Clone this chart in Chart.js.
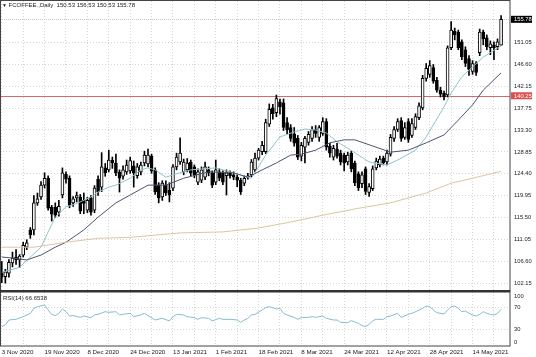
<!DOCTYPE html>
<html><head><meta charset="utf-8">
<script src="https://cdn.jsdelivr.net/npm/chart.js@4.4.1/dist/chart.umd.min.js"></script>
<style>
html,body{margin:0;padding:0;background:#fff;}
#wrap{position:relative;width:536px;height:357px;overflow:hidden;}
canvas{position:absolute;left:0;top:0;}
.lbl{position:absolute;font-family:"Liberation Sans",Arial,sans-serif;font-size:6px;color:#222;white-space:nowrap;line-height:1;}
</style></head>
<body>
<div id="wrap">
<canvas id="c" width="536" height="357"></canvas>
<div class="lbl" style="left:2px;top:2px;"><span style="font-size:5px">&#9660;</span> FCOFFEE.,Daily&nbsp; 150.53 156.53 150.53 155.78</div>
<div class="lbl" style="left:3px;top:295px;">RSI(14) 66.6538</div>
</div>
<script>
// ---------- data ----------
const startDate = '2020-11-03';
const holidays = ['2020-11-26','2020-12-25','2021-01-01','2021-01-18','2021-02-15','2021-04-02'];
const barCount = 141;
const openP  = [104.5,103.5,104.2,106.3,107.5,106.9,107.9,109.5,113.0,113.0,118.5,119.7,122.1,123.5,117.6,117.6,116.6,120.1,124.3,123.5,118.5,119.5,119.7,119.0,117.0,119.5,117.0,123.3,121.7,125.6,125.2,127.2,126.6,124.7,123.9,124.8,125.0,126.0,124.0,124.8,126.6,126.4,128.0,125.2,122.1,119.7,122.1,121.1,121.5,125.8,126.8,124.8,125.2,126.8,125.8,122.7,123.1,123.7,125.2,124.6,122.7,124.8,124.6,124.0,124.6,124.2,123.7,123.1,122.5,123.7,124.2,125.2,127.6,128.9,128.9,134.5,137.8,136.8,139.0,138.8,134.8,133.8,132.5,131.6,128.0,129.8,130.8,131.6,133.4,131.8,132.6,135.0,130.0,127.8,129.4,128.6,128.2,126.8,128.6,126.6,124.4,122.4,125.4,120.6,121.4,125.6,126.2,127.6,126.8,128.4,131.6,133.4,135.2,131.8,135.0,132.2,133.8,135.8,137.8,143.8,144.6,146.0,143.4,141.4,140.8,140.4,150.0,153.4,153.2,151.2,149.6,147.8,145.2,146.8,149.0,153.2,152.0,150.0,150.6,150.2,150.53];
const highP  = [106.6,105.0,107.0,108.5,109.0,108.0,110.5,111.0,113.5,120.0,120.5,122.8,124.6,124.0,118.0,118.5,119.0,125.6,124.8,124.0,119.8,120.7,120.2,120.5,119.6,120.0,122.0,124.0,128.7,126.5,129.2,127.8,128.4,125.2,126.0,127.2,127.8,127.0,126.5,126.8,129.0,129.4,128.4,125.6,122.6,123.0,123.0,122.6,126.3,128.6,131.7,127.4,127.5,127.2,126.2,125.4,125.8,126.8,125.8,125.0,127.2,125.4,125.0,125.2,125.0,124.8,124.2,123.5,124.0,124.5,127.3,128.6,129.6,131.0,135.5,138.6,138.5,140.4,139.6,139.6,135.8,134.4,133.8,132.2,130.8,132.0,133.0,134.0,134.2,134.2,135.8,135.6,130.6,130.2,130.6,129.2,128.6,128.8,129.0,127.0,124.8,124.8,125.8,122.4,126.0,127.6,128.0,128.0,129.2,132.4,134.0,135.6,135.8,134.8,135.6,135.6,136.6,138.8,144.4,146.8,147.4,146.6,144.0,142.0,141.2,150.4,155.3,154.0,153.6,151.6,150.2,148.4,147.4,147.2,153.8,153.6,152.6,151.4,151.2,151.8,156.53];
const lowP   = [102.3,102.2,103.4,105.5,106.0,105.4,107.5,109.0,111.3,112.0,118.0,119.2,121.5,117.0,114.8,115.5,115.8,119.5,122.5,117.5,117.8,118.7,116.3,116.3,116.5,116.0,116.5,120.0,120.8,123.9,124.8,125.5,124.0,120.7,123.3,124.3,124.5,121.7,123.5,124.2,126.0,125.8,124.5,120.2,118.5,119.0,120.0,118.7,121.0,125.2,126.3,124.2,124.8,124.0,123.6,122.2,122.6,123.2,124.0,121.6,122.2,123.0,122.2,120.1,123.5,123.2,121.8,120.2,122.0,123.3,123.8,124.8,127.2,128.3,128.5,134.0,135.5,136.0,136.5,133.2,132.5,131.0,130.0,127.3,127.0,126.6,130.2,131.0,131.8,131.0,132.2,129.2,127.8,127.2,127.6,126.2,125.0,126.2,124.8,122.0,121.0,121.6,120.2,119.8,121.0,125.2,125.8,126.2,126.2,128.0,131.0,133.0,131.0,131.4,130.8,131.8,133.4,135.4,137.4,143.2,144.0,142.8,141.0,140.0,139.4,140.0,149.6,151.6,149.6,147.6,146.2,144.4,144.6,144.4,148.4,150.6,149.6,148.6,147.6,149.6,150.53];
const closeP = [103.4,104.5,106.4,107.3,106.9,107.7,109.9,110.4,112.0,118.5,119.3,122.1,123.5,117.4,116.2,116.0,117.8,124.6,123.3,118.0,119.3,120.0,116.8,118.4,119.0,116.6,121.5,120.7,125.8,124.6,127.2,126.6,124.6,123.5,125.2,126.2,127.1,124.6,125.8,126.2,128.2,128.2,125.0,120.7,119.5,122.5,120.5,120.1,125.8,127.8,128.6,126.8,126.6,124.6,124.2,124.8,125.2,125.8,124.6,122.1,125.2,123.5,122.7,124.6,124.0,123.7,123.1,120.7,123.5,124.0,126.8,127.6,129.2,130.2,134.8,137.5,136.6,139.7,138.0,133.8,133.3,131.6,130.6,127.8,130.2,131.6,132.4,133.4,132.6,133.8,135.0,129.8,128.6,129.6,128.0,126.8,126.6,128.2,125.4,122.6,121.6,124.2,120.8,121.8,125.4,127.0,127.4,126.6,128.6,131.8,133.4,135.0,131.6,133.8,131.4,134.6,136.0,138.2,143.8,145.8,146.4,143.2,141.4,140.6,140.0,150.0,153.6,152.6,150.0,148.2,146.8,145.6,146.8,145.0,153.2,151.8,150.2,150.8,150.0,151.2,155.78];
// moving averages: [bar index, value]
const maFast = [[0,104.4],[5,105.4],[8,107.5],[11,109.5],[13,112.6],[15,115.6],[18,117.7],[20,118.1],[22,118.7],[25,119.7],[27,120.7],[30,121.7],[32,122.1],[36,123.5],[39,125.2],[41,125.6],[43,125.2],[46,123.7],[48,124.2],[53,125.2],[60,125.6],[65,124.6],[70,123.5],[74,128.2],[78,131.9],[82,132.9],[85,133.5],[88,133.3],[91,132.7],[94,130.9],[97,129.6],[100,128.2],[103,126.8],[108,126.2],[111,127.2],[116,129.2],[119,131.9],[124,138.0],[126,140.8],[129,144.1],[132,146.1],[135,148.1],[140,150.4]];
const maMid = [[0,107.5],[3,107.3],[7,106.9],[11,107.9],[15,109.5],[18,110.5],[23,113.0],[27,115.6],[32,118.5],[36,120.1],[41,122.1],[46,122.1],[51,123.5],[58,124.8],[65,124.6],[69,123.7],[73,125.2],[77,126.6],[81,128.2],[84,128.4],[88,129.2],[92,130.7],[96,131.3],[99,131.3],[103,130.3],[109,128.8],[114,129.2],[119,130.7],[124,132.3],[128,135.3],[132,138.4],[135,141.4],[140,144.9]];
const maSlow = [[0,109.5],[9,109.5],[18,110.5],[27,111.3],[36,111.5],[50,112.4],[62,112.6],[72,113.4],[81,114.6],[90,116.0],[100,117.4],[109,118.5],[114,119.5],[119,120.5],[126,122.5],[132,123.5],[140,124.9]];
const rsi = [[0,35.2],[1,38.2],[2,47.3],[4,48.5],[6,53.3],[8,59.4],[9,68.5],[10,71.5],[12,74.5],[13,65.5],[14,57.6],[15,55.2],[16,59.4],[17,67.3],[18,62.4],[19,54.5],[20,55.2],[22,52.1],[23,54.5],[25,51.5],[26,56.4],[27,57.6],[29,62.4],[30,61.2],[32,62.4],[33,56.4],[34,57.6],[36,59.4],[37,53.3],[39,56.4],[40,59.4],[41,55.2],[43,47.3],[45,50.3],[47,45.5],[48,53.3],[49,57.6],[51,56.4],[52,53.3],[54,51.5],[55,48.5],[56,51.5],[58,50.3],[59,45.5],[61,50.3],[62,48.5],[64,48.5],[66,47.3],[67,43.0],[68,47.3],[69,50.3],[70,56.4],[71,57.6],[73,65.5],[74,69.7],[75,71.5],[77,67.3],[78,68.5],[79,59.4],[80,56.4],[82,52.1],[83,48.5],[84,51.5],[86,52.1],[87,53.3],[88,52.1],[90,54.5],[91,50.3],[93,47.3],[94,47.3],[95,43.0],[97,42.4],[98,46.1],[100,41.2],[101,37.0],[102,35.2],[103,39.4],[104,46.1],[105,48.5],[107,48.5],[108,53.3],[109,54.5],[111,59.4],[112,52.1],[114,57.6],[115,59.4],[116,62.4],[118,68.5],[119,72.7],[120,71.5],[121,65.5],[122,60.6],[124,58.2],[125,65.5],[126,71.5],[127,72.7],[128,68.5],[129,62.4],[130,63.6],[131,59.4],[132,56.4],[133,54.5],[134,57.6],[135,62.4],[136,59.4],[137,57.6],[138,56.4],[139,59.4],[140,66.65]];
const priceTicks = [102.15,106.60,111.05,115.50,119.95,124.40,128.85,133.30,137.75,142.15,146.60,151.05];
const rsiTicks = [0,30,70,100];
const levelLine = 140.25;
const lastPrice = 155.78;

// ---------- build ----------
const MON = ['Jan','Feb','Mar','Apr','May','Jun','Jul','Aug','Sep','Oct','Nov','Dec'];
const categories = [];
{
  let d = new Date(startDate + 'T00:00:00Z');
  while (categories.length < barCount) {
    const wd = d.getUTCDay();
    const iso = d.toISOString().slice(0,10);
    if (wd !== 0 && wd !== 6 && !holidays.includes(iso)) {
      categories.push(d.getUTCDate() + ' ' + MON[d.getUTCMonth()] + ' ' + d.getUTCFullYear());
    }
    d = new Date(d.getTime() + 86400000);
  }
}
const labels = categories.concat(['', '']);
const N = labels.length;
function sparse(pairs){ const a = new Array(N).fill(null); pairs.forEach(([i,v]) => { a[i] = v; }); return a; }

const wickData = openP.map((o,i) => [lowP[i], highP[i]]);
const bodyData = openP.map((o,i) => [o, closeP[i]]);
const bodyFill = openP.map((o,i) => closeP[i] >= o ? '#ffffff' : '#000000');

const FONT = {family: '"Liberation Sans", Arial, sans-serif', size: 5.8};
const XFONT = {family: '"Liberation Sans", Arial, sans-serif', size: 6.2};
const FONT_CSS = '5.8px "Liberation Sans", Arial, sans-serif';
const noPad = s => { s.paddingTop = 0; s.paddingBottom = 0; s.paddingLeft = 0; s.paddingRight = 0; };

const panelPlugin = {
  id: 'panels',
  beforeDatasetsDraw(chart) {
    const {ctx, chartArea} = chart;
    const y = chart.scales.y;
    ctx.save();
    const ly = Math.round(y.getPixelForValue(levelLine)) + 0.5;
    ctx.strokeStyle = '#d9686a'; ctx.lineWidth = 1;
    ctx.beginPath(); ctx.moveTo(chartArea.left, ly); ctx.lineTo(chartArea.right, ly); ctx.stroke();
    const py = Math.round(y.getPixelForValue(lastPrice)) + 0.5;
    ctx.strokeStyle = '#c8c8c8'; ctx.setLineDash([1,1]);
    ctx.beginPath(); ctx.moveTo(chartArea.left, py); ctx.lineTo(chartArea.right, py); ctx.stroke();
    ctx.restore();
  },
  afterDraw(chart) {
    const {ctx, chartArea} = chart;
    const y = chart.scales.y;
    const yr = chart.scales.yr;
    const sep = y.bottom;
    ctx.save();
    ctx.strokeStyle = '#444'; ctx.lineWidth = 1;
    ctx.strokeRect(0.5, chartArea.top - 0.5, chartArea.right - 0.5, sep - chartArea.top);
    ctx.strokeRect(0.5, sep, chartArea.right - 0.5, chartArea.bottom - sep);
    ctx.fillStyle = '#333';
    ctx.fillRect(0, sep - 1, chartArea.right, 2.5);
    const boxes = [[lastPrice, '#000000'], [levelLine, '#d9504f']];
    ctx.font = FONT_CSS;
    ctx.textBaseline = 'middle'; ctx.textAlign = 'left';
    boxes.forEach(([v, col]) => {
      const yy = y.getPixelForValue(v);
      ctx.fillStyle = col;
      ctx.fillRect(chartArea.right + 1, yy - 3.5, 21, 7);
      ctx.fillStyle = '#ffffff';
      ctx.fillText(v.toFixed(2), chartArea.right + 4, yy + 0.3);
    });
    // RSI edge labels kept inside the pane
    ctx.fillStyle = '#222222';
    ctx.fillText('100', chartArea.right + 4, yr.getPixelForValue(100) + 5);
    ctx.fillText('0', chartArea.right + 4, yr.getPixelForValue(0) - 4);
    ctx.restore();
  }
};

new Chart(document.getElementById('c'), {
  type: 'bar',
  data: {
    labels: labels,
    datasets: [
      {type:'line', label:'ma slow', data: sparse(maSlow), yAxisID:'y', borderColor:'#d9c6a2', borderWidth:1, pointRadius:0, spanGaps:true, order:-3},
      {type:'line', label:'ma mid', data: sparse(maMid), yAxisID:'y', borderColor:'#4f5470', borderWidth:1, pointRadius:0, spanGaps:true, order:-2},
      {type:'line', label:'ma fast', data: sparse(maFast), yAxisID:'y', borderColor:'#8ec4c6', borderWidth:1, pointRadius:0, spanGaps:true, order:-1},
      {type:'bar', label:'body', data: bodyData, yAxisID:'y', backgroundColor: bodyFill, borderColor:'#000', borderWidth:1, borderSkipped:false, barThickness:3, grouped:false, order:0},
      {type:'bar', label:'wick', data: wickData, yAxisID:'y', backgroundColor:'#000', borderWidth:0, barThickness:1, grouped:false, order:1},
      {type:'line', label:'RSI', data: sparse(rsi), yAxisID:'yr', borderColor:'#86bcd0', borderWidth:1, pointRadius:0, spanGaps:true, order:-4}
    ]
  },
  options: {
    responsive:false, animation:false,
    layout:{padding:{top:1, left:0, right:0, bottom:0}},
    plugins:{legend:{display:false}, tooltip:{enabled:false}},
    scales:{
      x:{
        offset:true,
        grid:{offset:false, color:'#d6d6d6', drawTicks:false},
        border:{display:false, dash:[1,2]},
        afterBuildTicks: s => { s.ticks = s.ticks.filter(t => t.value % 6 === 0); },
        afterFit: s => { s.height = 11; noPad(s); },
        ticks:{autoSkip:false, maxRotation:0, minRotation:0, align:'start', padding:3, color:'#222', font:XFONT,
          callback: function(v){ return (v % 12 === 0 && v < barCount) ? this.getLabelForValue(v) : ''; }}
      },
      y:{
        position:'right', stack:'panes', stackWeight:290,
        min:100.6, max:159.5,
        grid:{color:'#d6d6d6', drawTicks:false},
        border:{display:false, dash:[1,2]},
        afterBuildTicks: s => { s.ticks = priceTicks.map(v => ({value:v})); },
        afterFit: s => { s.width = 26; noPad(s); },
        ticks:{autoSkip:false, padding:4, color:'#222', font:FONT, callback: v => Number(v).toFixed(2)}
      },
      yr:{
        position:'right', stack:'panes', stackWeight:55,
        min:0, max:100,
        grid:{color: c => (c.tick && (c.tick.value === 30 || c.tick.value === 70)) ? '#d6d6d6' : 'rgba(0,0,0,0)', drawTicks:false},
        border:{display:false, dash:[1,2]},
        afterBuildTicks: s => { s.ticks = rsiTicks.map(v => ({value:v})); },
        afterFit: s => { s.width = 26; noPad(s); },
        ticks:{autoSkip:false, padding:4, color:'#222', font:FONT, callback: v => (v === 30 || v === 70) ? String(v) : ''}
      }
    }
  },
  plugins:[panelPlugin]
});
</script>
</body></html>
